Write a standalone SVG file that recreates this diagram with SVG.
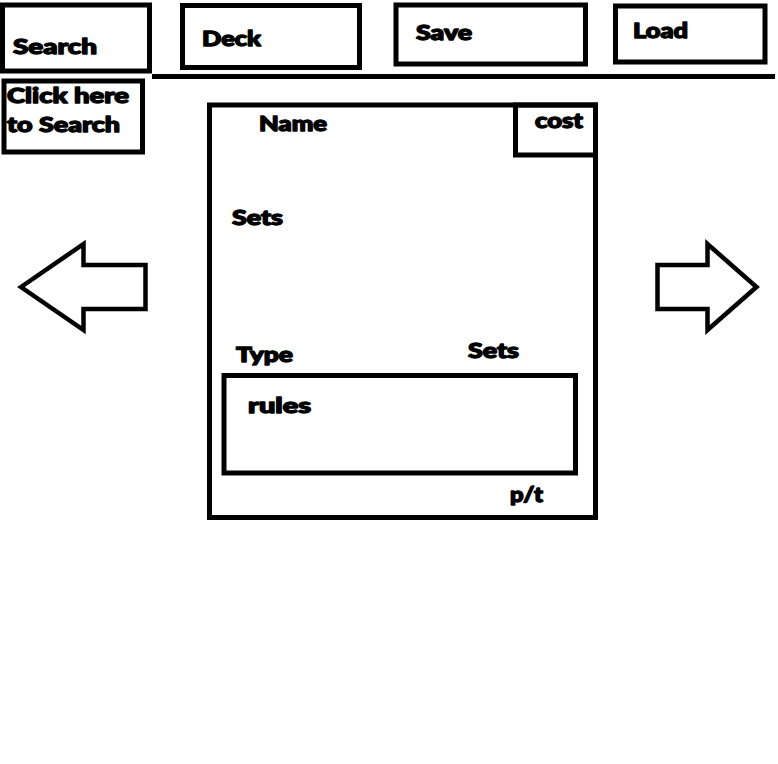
<svg xmlns="http://www.w3.org/2000/svg" width="778" height="764" viewBox="0 0 778 764">
<style>
.box{fill:none;stroke:#000;stroke-width:5}
.arrow{fill:#fff;stroke:#000;stroke-width:4.5;stroke-linejoin:miter}
.line{stroke:#000;stroke-width:5}
text{font-family:"Lato","DejaVu Sans",sans-serif;font-weight:900;font-size:20px;fill:#000;stroke:#000;stroke-width:1.3;stroke-linejoin:round}
</style>
<rect width="778" height="764" fill="#fff"/>
<g id="search-tab"><rect class="box" x="2.5" y="5" width="147" height="66"/><text x="13" y="54" textLength="84" lengthAdjust="spacingAndGlyphs">Search</text></g>
<g id="deck-tab"><rect class="box" x="182.5" y="5.5" width="177" height="62"/><text x="202" y="46" textLength="59" lengthAdjust="spacingAndGlyphs">Deck</text></g>
<g id="save-tab"><rect class="box" x="396" y="5" width="189.5" height="59"/><text x="416" y="40" textLength="56" lengthAdjust="spacingAndGlyphs">Save</text></g>
<g id="load-tab"><rect class="box" x="615.5" y="6" width="149.5" height="56"/><text x="633" y="38" textLength="55" lengthAdjust="spacingAndGlyphs">Load</text></g>
<g id="divider"><line class="line" x1="152" y1="76.5" x2="775" y2="76.5"/></g>
<g id="click-search"><rect class="box" x="4" y="81" width="138.5" height="71"/><text x="7" y="103" textLength="122" lengthAdjust="spacingAndGlyphs">Click here</text><text x="7" y="132" textLength="113" lengthAdjust="spacingAndGlyphs">to Search</text></g>
<g id="card">
<rect class="box" x="209.5" y="105" width="386" height="412.5"/>
<text x="259" y="131" textLength="68" lengthAdjust="spacingAndGlyphs">Name</text>
<text x="232" y="225" textLength="51" lengthAdjust="spacingAndGlyphs">Sets</text>
<text x="236" y="362" textLength="57" lengthAdjust="spacingAndGlyphs">Type</text>
<text x="468" y="358" textLength="51" lengthAdjust="spacingAndGlyphs">Sets</text>
<text x="510" y="502" textLength="33" lengthAdjust="spacingAndGlyphs">p/t</text>
</g>
<g id="cost"><rect class="box" x="515.5" y="105" width="80" height="50"/><text x="535" y="128" textLength="48" lengthAdjust="spacingAndGlyphs">cost</text></g>
<g id="rules"><rect class="box" x="224" y="375.5" width="351.5" height="97.5"/><text x="248" y="413" textLength="63" lengthAdjust="spacingAndGlyphs">rules</text></g>
<g id="prev-arrow"><polygon class="arrow" points="21,287 83.5,244 83.5,265 145.5,265 145.5,309 83.5,309 83.5,330"/></g>
<g id="next-arrow"><polygon class="arrow" points="657.5,265 707.5,265 707.5,244 756.5,287 707.5,330 707.5,309 657.5,309"/></g>
</svg>
